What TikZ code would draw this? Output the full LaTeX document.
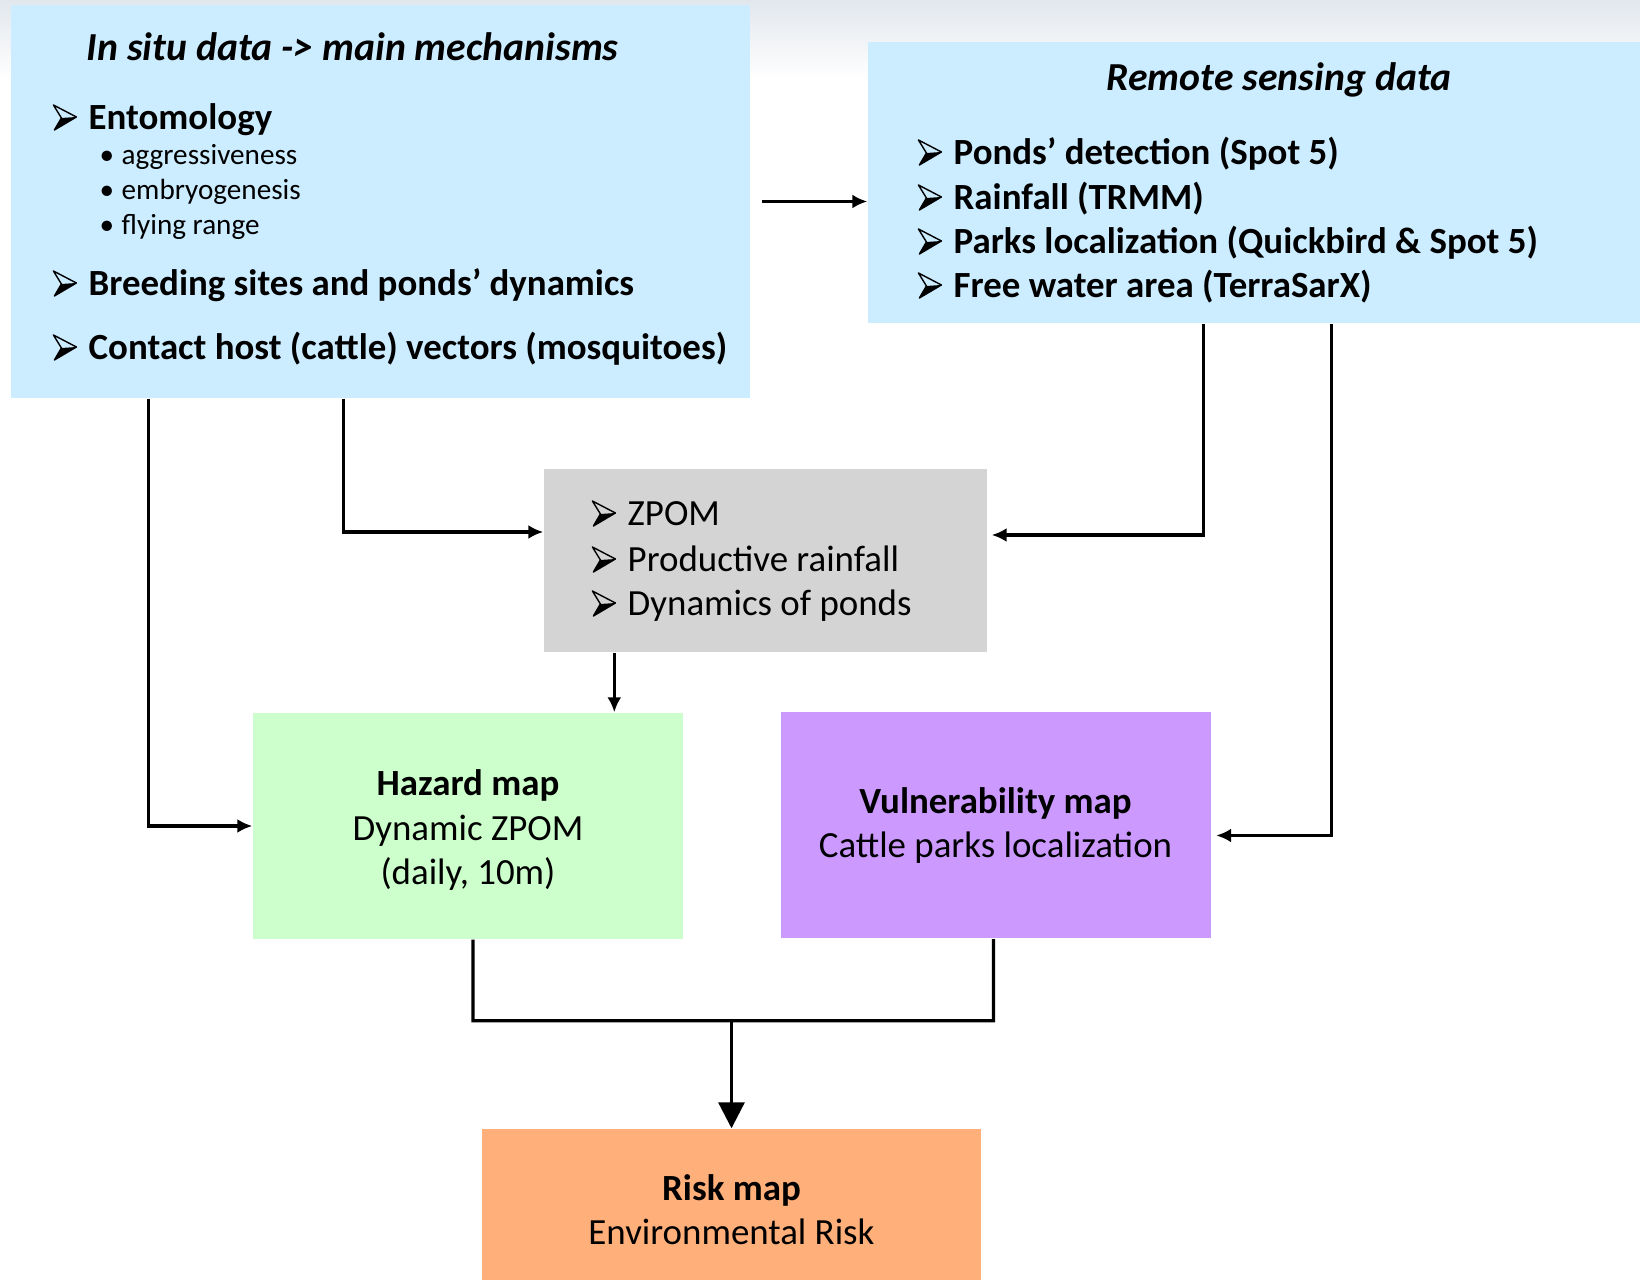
\documentclass[tikz,border=0pt]{standalone}
\usepackage{fontspec}
\setmainfont{Carlito}
\usepackage{tikz}
\usetikzlibrary{arrows.meta, positioning, calc}
\definecolor{cSitu}{HTML}{CCECFF}
\definecolor{cZpom}{HTML}{D4D4D4}
\definecolor{cHazard}{HTML}{CCFFCC}
\definecolor{cVuln}{HTML}{CC99FF}
\definecolor{cRisk}{HTML}{FFAF7A}
\definecolor{cSlide}{HTML}{E2E7ED}
% 3D arrowhead bullet
\newcommand{\bul}{\makebox[0.36cm][l]{\tikz[baseline=0pt, line join=round]{%
  \fill[black] (0.23,0.13) -- (0.08,0.12) -- (0.01,0) -- cycle;
  \draw[black, line width=0.4pt] (0,0.25) -- (0.23,0.13) -- (0.01,0) -- (0.08,0.12) -- cycle;}}}
\newcommand{\subbul}{\makebox[0.22cm][l]{\textbullet}}

\begin{document}
\begin{tikzpicture}[
  every node/.style={font=\fontsize{10.5}{12.6}\selectfont},
  box/.style={rectangle, inner sep=0pt, align=center},
  txt/.style={anchor=base west, inner sep=0pt},
  bold/.style={txt, font=\fontsize{10.5}{12.6}\selectfont\bfseries},
  small/.style={txt, font=\fontsize{8.3}{10}\selectfont},
  head/.style={inner sep=0pt, font=\fontsize{11.3}{13.6}\selectfont\bfseries\itshape},
  ar/.style={-{Latex[length=1.5mm, width=1.4mm]}, line width=0.9pt},
  ln/.style={line width=0.9pt},
  bigar/.style={-{Triangle[length=2.6mm, width=2.6mm]}, line width=0.9pt}
]
\useasboundingbox (0,0) rectangle (16.4,-12.8);
\clip (0,0) rectangle (16.4,-12.8);
\fill[top color=cSlide, bottom color=white] (0,0) rectangle (16.4,-0.8);

% boxes
\node[box, fill=cSitu, minimum width=7.39cm, minimum height=3.93cm] (situ) at (3.805,-2.015) {};
\node[box, fill=cSitu, minimum width=8.22cm, minimum height=2.81cm] (remote) at (12.79,-1.825) {};
\node[box, fill=cZpom, minimum width=4.43cm, minimum height=1.83cm] (zpom) at (7.655,-5.605) {};
\node[box, fill=cHazard, minimum width=4.30cm, minimum height=2.26cm] (hazard) at (4.68,-8.26)
  {\\[-0.1cm]\textbf{Hazard map}\\Dynamic ZPOM\\(daily, 10m)};
\node[box, fill=cVuln, minimum width=4.30cm, minimum height=2.26cm] (vuln) at (9.955,-8.255)
  {\textbf{Vulnerability map}\\Cattle parks localization};
\node[box, fill=cRisk, minimum width=4.99cm, minimum height=1.61cm] (risk) at (7.315,-12.095)
  {\textbf{Risk map}\\Environmental Risk};

% in situ data
\node[head, anchor=base west] (situT) at (0.86,-0.61) {In situ data -> main mechanisms};
\node[bold] (ento) at (0.52,-1.30) {\bul Entomology};
\node[small] (aggr) at (0.99,-1.65) {\subbul aggressiveness};
\node[small] (embr) at (0.99,-2.00) {\subbul embryogenesis};
\node[small] (flyr) at (0.99,-2.35) {\subbul flying range};
\node[bold] (breed) at (0.52,-2.96) {\bul Breeding sites and ponds’ dynamics};
\node[bold] (cont) at (0.52,-3.60) {\bul Contact host (cattle) vectors (mosquitoes)};

% remote sensing
\node[head, anchor=base] (remoteT) at (12.79,-0.91) {Remote sensing data};
\node[bold] (ponds) at (9.17,-1.65) {\bul Ponds’ detection (Spot 5)};
\node[bold] (rain) at (9.17,-2.10) {\bul Rainfall (TRMM)};
\node[bold] (parks) at (9.17,-2.54) {\bul Parks localization (Quickbird \& Spot 5)};
\node[bold] (water) at (9.17,-2.98) {\bul Free water area (TerraSarX)};

% zpom
\node[txt] (zp1) at (5.91,-5.26) {\bul ZPOM};
\node[txt] (zp2) at (5.91,-5.72) {\bul Productive rainfall};
\node[txt] (zp3) at (5.91,-6.16) {\bul Dynamics of ponds};

% links
\draw[ar] ([xshift=1.1mm]situ.east) -- (situ.east -| remote.west);
\draw[ar] ([xshift=33.3mm]situ.south west) |- ([yshift=2.85mm]zpom.west);
\draw[ar] ([xshift=13.8mm]situ.south west) |- (hazard.west);
\draw[ar] ([xshift=33.6mm]remote.south west) |- ([yshift=2.55mm, xshift=0.4mm]zpom.east);
\draw[ar] ([xshift=46.4mm]remote.south west) |- ([yshift=-1mm, xshift=0.5mm]vuln.east);
\draw[ar] ([xshift=7.1mm]zpom.south west) -- ([xshift=7.1mm]zpom.south west |- hazard.north);

\coordinate (mrg) at ($(hazard.south)+(0.05,-0.81)$);
\draw[ln] ([xshift=0.5mm]hazard.south) -- (mrg) -| ([xshift=-0.2mm]vuln.south);
\draw[bigar] (mrg -| risk.north) -- (risk.north);
\end{tikzpicture}
\end{document}
